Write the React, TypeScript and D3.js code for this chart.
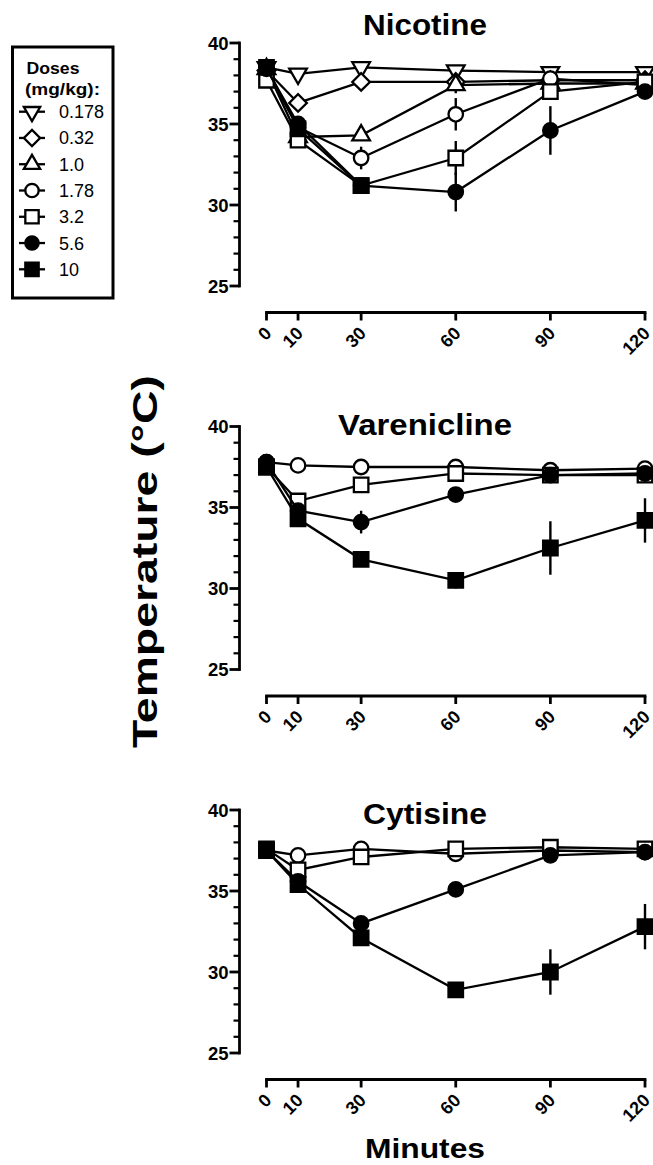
import * as d3 from 'd3';

const TIMES = [0, 10, 30, 60, 90, 120];
const DOSES = ['0.178', '0.32', '1.0', '1.78', '3.2', '5.6', '10'];
const SHAPES = ['triDown', 'diamond', 'triUp', 'circle', 'square', 'circle', 'square'];
const FILLED = [false, false, false, false, false, true, true];
const Y_TICKS = [25, 30, 35, 40];

// means per dose (same order as DOSES); null = dose not tested / no value
const NICOTINE_MEANS: (number | null)[][] = [
  [38.5, 38.1, 38.5, 38.3, 38.2, 38.2],
  [38.3, 36.3, 37.6, 37.6, 37.7, 37.7],
  [38.4, 34.2, 34.3, 37.4, 37.5, 37.5],
  [38.3, 34.8, 32.9, 35.6, 37.8, 37.4],
  [37.7, 34.0, 31.2, 32.9, 37.0, 37.6],
  [38.4, 35.0, 31.2, 30.8, 34.6, 37.0],
  [38.5, 34.7, 31.2, null, null, null],
];
const NICOTINE_SEM: (number | null)[][] = [
  [null, null, null, null, null, null],
  [null, null, null, null, null, null],
  [null, null, null, 0.5, null, null],
  [null, null, 0.7, 1.0, null, null],
  [null, null, null, 1.05, null, null],
  [null, null, null, 1.2, 1.5, 0.4],
  [null, null, null, null, null, null],
];

const VARENICLINE_MEANS: (number | null)[][] = [
  [],
  [],
  [],
  [37.8, 37.6, 37.5, 37.5, 37.3, 37.4],
  [37.5, 35.4, 36.4, 37.1, 37.0, 37.0],
  [37.8, 34.8, 34.1, 35.8, 37.0, 37.1],
  [37.5, 34.3, 31.8, 30.5, 32.5, 34.2],
];
const VARENICLINE_SEM: (number | null)[][] = [
  [],
  [],
  [],
  [null, null, null, null, null, null],
  [null, null, null, null, null, null],
  [null, null, 0.7, null, null, null],
  [null, null, null, 0.5, 1.65, 1.37],
];

const CYTISINE_MEANS: (number | null)[][] = [
  [],
  [],
  [],
  [37.5, 37.2, 37.6, 37.3, 37.5, 37.4],
  [37.6, 36.3, 37.1, 37.6, 37.7, 37.6],
  [37.5, 35.6, 33.0, 35.1, 37.2, 37.4],
  [37.5, 35.4, 32.1, 28.9, 30.0, 32.8],
];
const CYTISINE_SEM: (number | null)[][] = [
  [],
  [],
  [],
  [null, null, null, null, null, null],
  [null, null, null, null, null, null],
  [null, null, null, null, null, null],
  [null, null, null, null, 1.4, 1.4],
];

const PANELS = [
  { title: 'Nicotine', means: NICOTINE_MEANS, sem: NICOTINE_SEM, top: 43, titleY: 35, titleLen: 124 },
  { title: 'Varenicline', means: VARENICLINE_MEANS, sem: VARENICLINE_SEM, top: 426.5, titleY: 435, titleLen: 174 },
  { title: 'Cytisine', means: CYTISINE_MEANS, sem: CYTISINE_SEM, top: 810, titleY: 824, titleLen: 124 },
];

const FONT = '"Liberation Sans", Arial, Helvetica, sans-serif';
const W = 653;
const H = 1165;
const PLOT_H = 243;
const X_AXIS_GAP = 269.5;
const Y_AXIS_X = 239.5;

const x = d3.scaleLinear().domain([0, 120]).range([266.5, 645]);

function symbolPath(shape: string, legend = false): { d: string; rot: number } {
  const k = legend ? 0.85 : 1;
  switch (shape) {
    case 'circle':
      return { d: d3.symbol(d3.symbolCircle, 165 * k)()!, rot: 0 };
    case 'square':
      return { d: d3.symbol(d3.symbolSquare, 210 * k)()!, rot: 0 };
    case 'diamond':
      return { d: d3.symbol(d3.symbolSquare, 155 * k)()!, rot: 45 };
    case 'triUp':
      return { d: d3.symbol(d3.symbolTriangle, 135 * k)()!, rot: 0 };
    default:
      return { d: d3.symbol(d3.symbolTriangle, 135 * k)()!, rot: 180 };
  }
}

function Marker({ cx, cy, idx, legend = false }: { cx: number; cy: number; idx: number; legend?: boolean }) {
  const s = symbolPath(SHAPES[idx], legend);
  return (
    <path
      d={s.d}
      transform={`translate(${cx},${cy}) rotate(${s.rot})`}
      fill={FILLED[idx] ? '#000' : '#fff'}
      stroke="#000"
      strokeWidth={2.3}
    />
  );
}

function Panel({ panel }: { panel: (typeof PANELS)[number] }) {
  const y = d3.scaleLinear().domain([25, 40]).range([panel.top + PLOT_H, panel.top]);
  const axisY = panel.top + X_AXIS_GAP;
  const minor = d3.range(25, 41, 1).filter((v) => v % 5 !== 0);

  return (
    <g>
      <text
        x={425}
        y={panel.titleY}
        textAnchor="middle"
        fontSize={29}
        fontWeight="bold"
        fontFamily={FONT}
        textLength={panel.titleLen}
        lengthAdjust="spacingAndGlyphs"
      >
        {panel.title}
      </text>

      {/* y axis */}
      <line x1={Y_AXIS_X} x2={Y_AXIS_X} y1={y(40) - 1.4} y2={y(25) + 1.4} stroke="#000" strokeWidth={2.8} />
      {Y_TICKS.map((t) => (
        <g key={t}>
          <line x1={Y_AXIS_X - 10} x2={Y_AXIS_X} y1={y(t)} y2={y(t)} stroke="#000" strokeWidth={2.8} />
          <text
            x={Y_AXIS_X - 11}
            y={y(t)}
            dy="0.36em"
            textAnchor="end"
            fontSize={18.5}
            fontWeight="bold"
            fontFamily={FONT}
          >
            {t}
          </text>
        </g>
      ))}
      {minor.map((t) => (
        <line key={t} x1={Y_AXIS_X - 6} x2={Y_AXIS_X} y1={y(t)} y2={y(t)} stroke="#000" strokeWidth={2.2} />
      ))}

      {/* x axis */}
      <line x1={x(0) - 1.4} x2={x(120) + 1.4} y1={axisY} y2={axisY} stroke="#000" strokeWidth={2.8} />
      {TIMES.map((t) => (
        <g key={t}>
          <line x1={x(t)} x2={x(t)} y1={axisY} y2={axisY + 8} stroke="#000" strokeWidth={2.8} />
          <text
            transform={`translate(${x(t) + 6},${axisY + 22}) rotate(-45)`}
            textAnchor="end"
            fontSize={18}
            fontWeight="bold"
            fontFamily={FONT}
          >
            {t}
          </text>
        </g>
      ))}

      {/* series */}
      {panel.means.map((vals, di) => {
        if (!vals.length) return null;
        const pts = TIMES.map((t, i) => ({ t, v: vals[i], e: panel.sem[di]?.[i] ?? null })).filter(
          (p) => p.v != null
        ) as { t: number; v: number; e: number | null }[];
        const line = d3
          .line<{ t: number; v: number }>()
          .x((p) => x(p.t))
          .y((p) => y(p.v));
        return (
          <g key={di}>
            {pts
              .filter((p) => p.e != null)
              .map((p) => (
                <line
                  key={`e${p.t}`}
                  x1={x(p.t)}
                  x2={x(p.t)}
                  y1={y(p.v - (p.e as number))}
                  y2={y(p.v + (p.e as number))}
                  stroke="#000"
                  strokeWidth={2.4}
                />
              ))}
            <path d={line(pts) ?? ''} fill="none" stroke="#000" strokeWidth={2.3} />
            {pts.map((p) => (
              <Marker key={p.t} cx={x(p.t)} cy={y(p.v)} idx={di} />
            ))}
          </g>
        );
      })}
    </g>
  );
}

function Legend() {
  const rowY = d3.scaleLinear().domain([0, DOSES.length - 1]).range([111.7, 269.3]);
  return (
    <g fontFamily={FONT}>
      <rect x={12.5} y={47} width={100.5} height={251} fill="#fff" stroke="#000" strokeWidth={3} />
      <text x={26.5} y={74} fontSize={16.5} fontWeight="bold" textLength={53} lengthAdjust="spacingAndGlyphs">
        Doses
      </text>
      <text x={25} y={95} fontSize={16.5} fontWeight="bold" textLength={75} lengthAdjust="spacingAndGlyphs">
        (mg/kg):
      </text>
      {DOSES.map((d, i) => (
        <g key={d}>
          <line x1={19} x2={45} y1={rowY(i)} y2={rowY(i)} stroke="#000" strokeWidth={2.3} />
          <Marker cx={32} cy={rowY(i)} idx={i} legend />
          <text x={59} y={rowY(i)} dy="0.36em" fontSize={18}>
            {d}
          </text>
        </g>
      ))}
    </g>
  );
}

export default function App() {
  return (
    <svg
      width={W}
      height={H}
      viewBox={`0 0 ${W} ${H}`}
      style={{ position: 'absolute', left: 0, top: 0, background: '#fff' }}
    >
      <rect width={W} height={H} fill="#fff" />
      <Legend />
      {PANELS.map((p) => (
        <Panel key={p.title} panel={p} />
      ))}
      <text
        transform="translate(157,561.5) rotate(-90)"
        textAnchor="middle"
        fontSize={35}
        fontWeight="bold"
        fontFamily={FONT}
        textLength={373}
        lengthAdjust="spacingAndGlyphs"
      >
        Temperature (°C)
      </text>
      <text
        x={425}
        y={1158}
        textAnchor="middle"
        fontSize={28}
        fontWeight="bold"
        fontFamily={FONT}
        textLength={120}
        lengthAdjust="spacingAndGlyphs"
      >
        Minutes
      </text>
    </svg>
  );
}
